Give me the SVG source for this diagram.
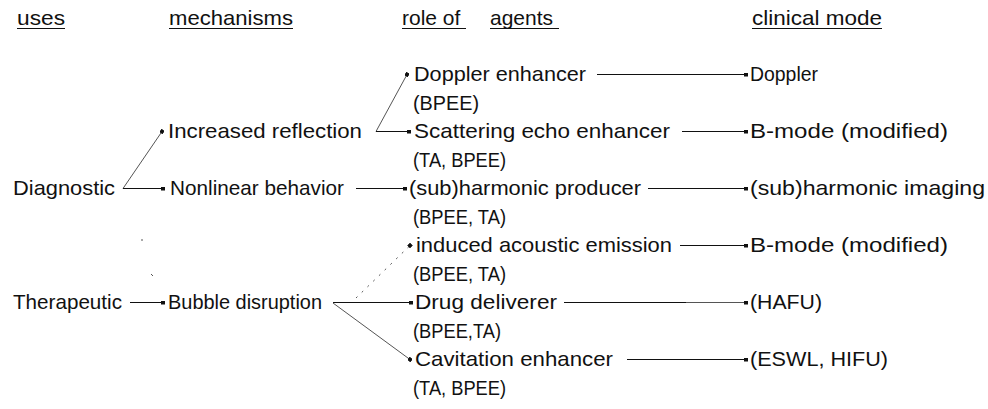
<svg xmlns="http://www.w3.org/2000/svg" width="988" height="409" viewBox="0 0 988 409">
<style>
text{font-family:"Liberation Sans",Arial,sans-serif;font-size:21px;fill:#111}
.c line{stroke:#111;stroke-width:1;fill:none}
.c .s{stroke:#555}
.u{stroke:#111;stroke-width:1}
</style>
<defs>
<marker id="b" markerUnits="userSpaceOnUse" markerWidth="4" markerHeight="4" refX="2" refY="2" orient="auto"><rect width="4" height="4" fill="#111"/></marker>
</defs>
<rect width="988" height="409" fill="#fff"/>
<g id="headers">
<text x="17" y="25" textLength="48" lengthAdjust="spacingAndGlyphs">uses</text>
<line class="u" x1="17" y1="28.5" x2="65" y2="28.5"/>
<text x="169" y="25" textLength="124" lengthAdjust="spacingAndGlyphs">mechanisms</text>
<line class="u" x1="169" y1="28.5" x2="293" y2="28.5"/>
<text x="402" y="25">role of <tspan x="490">agents</tspan></text>
<line class="u" x1="402" y1="28.5" x2="466" y2="28.5"/>
<line class="u" x1="490" y1="28.5" x2="559" y2="28.5"/>
<text x="752" y="25" textLength="130" lengthAdjust="spacingAndGlyphs">clinical mode</text>
<line class="u" x1="752" y1="28.5" x2="882" y2="28.5"/>
</g>
<g id="diagnostic"><text x="13" y="195" textLength="102" lengthAdjust="spacingAndGlyphs">Diagnostic</text></g>
<g id="therapeutic"><text x="13" y="309" textLength="109" lengthAdjust="spacingAndGlyphs">Therapeutic</text></g>
<g id="increased-reflection"><text x="168" y="138" textLength="194" lengthAdjust="spacingAndGlyphs">Increased reflection</text></g>
<g id="nonlinear-behavior"><text x="170" y="195" textLength="174" lengthAdjust="spacingAndGlyphs">Nonlinear behavior</text></g>
<g id="bubble-disruption"><text x="168" y="309" textLength="154" lengthAdjust="spacingAndGlyphs">Bubble disruption</text></g>
<g id="doppler-enhancer">
<text x="414" y="81" textLength="172" lengthAdjust="spacingAndGlyphs">Doppler enhancer</text>
<text x="413" y="109.5" textLength="66" lengthAdjust="spacingAndGlyphs">(BPEE)</text>
</g>
<g id="scattering-echo-enhancer">
<text x="414" y="138" textLength="256" lengthAdjust="spacingAndGlyphs">Scattering echo enhancer</text>
<text x="413" y="166.5" textLength="93" lengthAdjust="spacingAndGlyphs">(TA, BPEE)</text>
</g>
<g id="harmonic-producer">
<text x="409" y="195" textLength="232" lengthAdjust="spacingAndGlyphs">(sub)harmonic producer</text>
<text x="413" y="223.5" textLength="93" lengthAdjust="spacingAndGlyphs">(BPEE, TA)</text>
</g>
<g id="induced-acoustic-emission">
<text x="416" y="252" textLength="256" lengthAdjust="spacingAndGlyphs">induced acoustic emission</text>
<text x="413" y="280.5" textLength="93" lengthAdjust="spacingAndGlyphs">(BPEE, TA)</text>
</g>
<g id="drug-deliverer">
<text x="415" y="309" textLength="142" lengthAdjust="spacingAndGlyphs">Drug deliverer</text>
<text x="413" y="337.5" textLength="88" lengthAdjust="spacingAndGlyphs">(BPEE,TA)</text>
</g>
<g id="cavitation-enhancer">
<text x="415" y="366" textLength="198" lengthAdjust="spacingAndGlyphs">Cavitation enhancer</text>
<text x="413" y="394.5" textLength="93" lengthAdjust="spacingAndGlyphs">(TA, BPEE)</text>
</g>
<g id="mode-doppler"><text x="750" y="81" textLength="68" lengthAdjust="spacingAndGlyphs">Doppler</text></g>
<g id="mode-bmode-1"><text x="750" y="138" textLength="198" lengthAdjust="spacingAndGlyphs">B-mode (modified)</text></g>
<g id="mode-harmonic-imaging"><text x="750" y="195" textLength="235" lengthAdjust="spacingAndGlyphs">(sub)harmonic imaging</text></g>
<g id="mode-bmode-2"><text x="750" y="252" textLength="198" lengthAdjust="spacingAndGlyphs">B-mode (modified)</text></g>
<g id="mode-hafu"><text x="750" y="309" textLength="72" lengthAdjust="spacingAndGlyphs">(HAFU)</text></g>
<g id="mode-eswl-hifu"><text x="750" y="366" textLength="138" lengthAdjust="spacingAndGlyphs">(ESWL, HIFU)</text></g>
<g id="connectors" class="c">
<line class="s" x1="123" y1="188.5" x2="162" y2="131.5" marker-end="url(#b)"/>
<line x1="123" y1="188.5" x2="163" y2="188.5" marker-end="url(#b)"/>
<line x1="130" y1="302.5" x2="163" y2="302.5" marker-end="url(#b)"/>
<line class="s" x1="376" y1="131.5" x2="407" y2="74.5" marker-end="url(#b)"/>
<line x1="376" y1="131.5" x2="409" y2="131.5" marker-end="url(#b)"/>
<line x1="356" y1="188.5" x2="405" y2="188.5" marker-end="url(#b)"/>
<line class="s" x1="356" y1="298" x2="410" y2="245.5" stroke-dasharray="2 6" marker-end="url(#b)"/>
<line x1="333" y1="302.5" x2="411" y2="302.5" marker-end="url(#b)"/>
<line class="s" x1="333" y1="303" x2="410" y2="359.5" marker-end="url(#b)"/>
<line x1="597" y1="74.5" x2="746" y2="74.5" marker-end="url(#b)"/>
<line x1="682" y1="131.5" x2="746" y2="131.5" marker-end="url(#b)"/>
<line x1="648" y1="188.5" x2="746" y2="188.5" marker-end="url(#b)"/>
<line x1="680" y1="245.5" x2="746" y2="245.5" marker-end="url(#b)"/>
<line x1="564" y1="302.5" x2="686" y2="302.5"/>
<line class="s" x1="686" y1="302.5" x2="746" y2="302.5" marker-end="url(#b)"/>
<line x1="627" y1="359.5" x2="746" y2="359.5" marker-end="url(#b)"/>
<line class="s" x1="142" y1="239" x2="142" y2="241"/>
<line class="s" x1="151" y1="274" x2="153" y2="276"/>
</g>
</svg>
